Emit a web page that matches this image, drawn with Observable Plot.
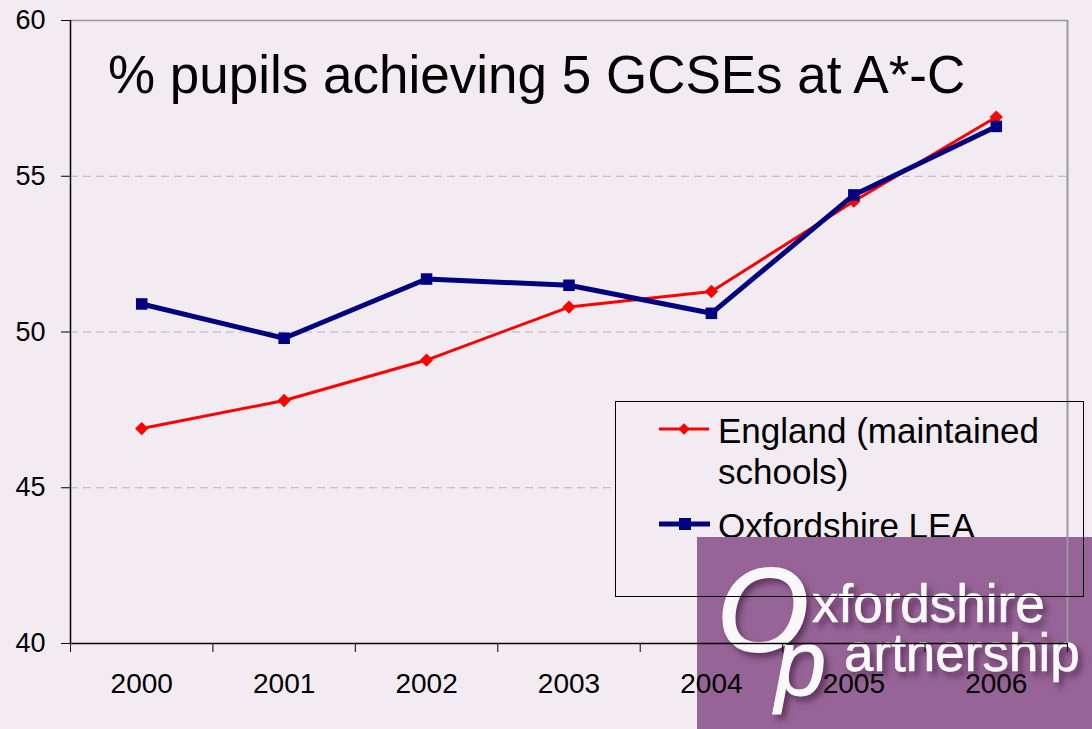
<!DOCTYPE html>
<html><head><meta charset="utf-8">
<script src="https://cdn.jsdelivr.net/npm/d3@7"></script>
<script src="https://cdn.jsdelivr.net/npm/@observablehq/plot@0.6"></script>
<style>
body{margin:0;background:#F2ECF2;}
#wrap{position:relative;width:1092px;height:729px;overflow:hidden;background:#F2ECF2;font-family:"Liberation Sans",Arial,sans-serif;}
#wrap > svg{position:absolute;left:0;top:0;}
#title{position:absolute;left:108px;top:48px;font-size:53px;line-height:1;color:#000;white-space:nowrap;}
#legend{position:absolute;left:615px;top:401px;width:469px;height:196px;background:#F2ECF2;}
#legendBorder{position:absolute;left:615px;top:401px;width:469px;height:196px;border:1px solid #000;box-sizing:border-box;}
.li{position:absolute;font-size:35px;line-height:1;color:#000;white-space:nowrap;}
#logo{position:absolute;left:697px;top:537px;width:395px;height:192px;background:#966496;color:#fbf8fb;}
#logo span{position:absolute;line-height:1;text-shadow:4px 5px 6px rgba(70,30,70,0.75);white-space:nowrap;font-family:"Liberation Sans",Arial,sans-serif;-webkit-text-stroke:0.6px #fbf8fb;}
</style></head>
<body><div id="wrap"></div>
<script>
const years = ["2000","2001","2002","2003","2004","2005","2006"];
const england = [46.9, 47.8, 49.1, 50.8, 51.3, 54.2, 56.9];
const oxfordshire = [50.9, 49.8, 51.7, 51.5, 50.6, 54.4, 56.6];
const gridValues = [45, 50, 55];
const yTicks = [40, 45, 50, 55, 60];

const eng = years.map((y, i) => ({i, v: england[i]}));
const oxf = years.map((y, i) => ({i, v: oxfordshire[i]}));
const bounds = d3.range(years.length + 1).map(k => k - 0.5);

const base = {
  width: 1092, height: 729,
  marginLeft: 70, marginRight: 25, marginTop: 20, marginBottom: 86,
  style: {background: "transparent", fontFamily: "'Liberation Sans', Arial, sans-serif", color: "#000", overflow: "visible"},
  x: {domain: [-0.5, years.length - 0.5], axis: null},
  y: {domain: [40, 60], axis: null}
};

// bottom layer: grid + data
const dataLayer = Plot.plot({
  ...base,
  marks: [
    Plot.ruleY(gridValues, {stroke: "#b4b4b4", strokeDasharray: "8,5", strokeWidth: 1}),
    Plot.line(eng, {x: "i", y: "v", stroke: "#ff0000", strokeWidth: 3}),
    Plot.dot(eng, {x: "i", y: "v", symbol: "diamond2", r: 6, fill: "#ff0000", stroke: "none"}),
    Plot.line(oxf, {x: "i", y: "v", stroke: "#000080", strokeWidth: 5}),
    Plot.dot(oxf, {x: "i", y: "v", symbol: "square", r: 6.5, fill: "#000080", stroke: "none"})
  ]
});

// top layer: axes and frame (drawn over the logo, as in the reference)
const axisLayer = Plot.plot({
  ...base,
  marks: [
    Plot.ruleY([60], {stroke: "#999", strokeWidth: 1.5}),
    Plot.ruleX([years.length - 0.5], {stroke: "#999", strokeWidth: 2}),
    Plot.ruleX([-0.5], {stroke: "#000", strokeWidth: 1.5}),
    Plot.ruleY([40], {stroke: "#000", strokeWidth: 1.5}),
    Plot.axisY({ticks: yTicks, tickSize: 9, tickPadding: 16, label: null, fontSize: 27, stroke: "#000", strokeOpacity: 1}),
    Plot.axisX({ticks: d3.range(years.length), tickSize: 0, tickPadding: 30, tickFormat: i => years[i], label: null, fontSize: 28}),
    Plot.axisX({ticks: bounds, tickSize: 9, tickFormat: () => "", label: null, stroke: "#000", strokeOpacity: 1})
  ]
});

const wrap = document.getElementById("wrap");
wrap.appendChild(dataLayer);

const title = document.createElement("div");
title.id = "title";
title.textContent = "% pupils achieving 5 GCSEs at A*-C";
wrap.appendChild(title);

const legend = document.createElement("div");
legend.id = "legend";
legend.innerHTML = `
<svg width="120" height="196" style="position:absolute;left:0;top:0">
  <line x1="44" y1="28" x2="94" y2="28" stroke="#ff0000" stroke-width="3"/>
  <rect x="65" y="24" width="8" height="8" fill="#ff0000" transform="rotate(45 69 28)"/>
  <line x1="44" y1="123" x2="95" y2="123" stroke="#000080" stroke-width="5"/>
  <rect x="64" y="117" width="12" height="12" fill="#000080"/>
</svg>
<div class="li" style="left:103px;top:12px">England (maintained</div>
<div class="li" style="left:103px;top:53px">schools)</div>
<div class="li" style="left:103px;top:107px">Oxfordshire LEA</div>`;
wrap.appendChild(legend);

const logo = document.createElement("div");
logo.id = "logo";
logo.innerHTML = `
<span style="left:20px;top:14px;font-size:118px;font-style:italic;-webkit-text-stroke:2px #fbf8fb;">O</span>
<span style="left:115px;top:40px;font-size:53px;">xfordshire</span>
<span style="left:78px;top:80px;font-size:92px;font-style:italic;-webkit-text-stroke:1px #fbf8fb;">p</span>
<span style="left:147px;top:89px;font-size:53px;">artnership</span>`;
wrap.appendChild(logo);

wrap.appendChild(axisLayer);

const lb = document.createElement("div");
lb.id = "legendBorder";
wrap.appendChild(lb);
</script>
</body></html>
